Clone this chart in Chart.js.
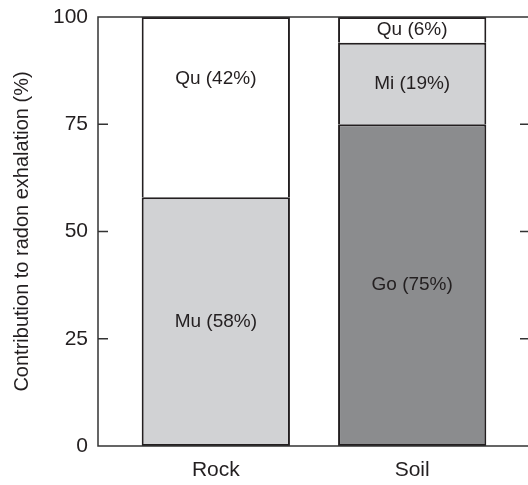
<!DOCTYPE html>
<html><head><meta charset="utf-8">
<script src="https://cdn.jsdelivr.net/npm/chart.js@4"></script>
<style>html,body{margin:0;padding:0;overflow:hidden;background:#fff}#wrap{width:532px;height:485px;position:relative}</style>
</head><body><div id="wrap"><canvas id="c"></canvas></div>
<script>
const categories = ['Rock', 'Soil'];
const muValues = [58, null];
const goValues = [null, 75];
const miValues = [null, 19];
const quValues = [42, 6];
const yTicks = [0, 25, 50, 75, 100];
const seriesNames = ['Mu', 'Go', 'Mi', 'Qu'];

const FONT = '"Liberation Sans", Arial, sans-serif';
const toPts = arr => arr.map((v, i) => ({x: i, y: v}));
const border = '#231f20';
const mk = (name, vals, color, skip) => ({label: name, data: toPts(vals), backgroundColor: color, borderColor: border, borderWidth: 2, borderSkipped: skip});

const labelPlugin = {
  id: 'labels',
  afterDatasetsDraw(chart) {
    const ctx = chart.ctx;
    ctx.save();
    ctx.font = '19px ' + FONT;
    ctx.fillStyle = '#231f20';
    ctx.textAlign = 'center';
    ctx.textBaseline = 'middle';
    chart.data.datasets.forEach((ds, di) => {
      const meta = chart.getDatasetMeta(di);
      meta.data.forEach((el, i) => {
        const v = ds.data[i].y;
        if (v == null) return;
        let y = (el.y + el.base) / 2;
        if (ds.label === 'Qu' && i === 0) y -= 28;
        ctx.fillText(ds.label + ' (' + v + '%)', el.x, y);
      });
    });
    ctx.restore();
  },
  afterDraw(chart) {
    const ctx = chart.ctx, a = chart.chartArea, ys = chart.scales.y;
    ctx.save();
    ctx.strokeStyle = '#333';
    ctx.lineWidth = 1.5;
    ctx.beginPath();
    ctx.moveTo(a.right, a.top); ctx.lineTo(a.left, a.top); ctx.lineTo(a.left, a.bottom); ctx.lineTo(a.right, a.bottom);
    yTicks.forEach(t => {
      const p = ys.getPixelForValue(t);
      ctx.moveTo(a.left, p); ctx.lineTo(a.left + 10, p);
      ctx.moveTo(a.right, p); ctx.lineTo(a.right - 10, p);
    });
    ctx.stroke();
    ctx.restore();
  }
};

new Chart(document.getElementById('c'), {
  type: 'bar',
  data: {
    datasets: [
      mk('Mu', muValues, '#d1d2d4', false),
      mk('Go', goValues, '#8b8c8e', false),
      mk('Mi', miValues, '#d1d2d4', 'bottom'),
      mk('Qu', quValues, '#ffffff', 'bottom')
    ]
  },
  options: {
    responsive: true, maintainAspectRatio: false, animation: false,
    layout: {padding: {top: 17, right: 2, left: 0, bottom: 0}},
    barPercentage: 0.755, categoryPercentage: 1,
    plugins: {legend: {display: false}, tooltip: {enabled: false}},
    scales: {
      x: {
        type: 'linear', stacked: true, min: -0.6, max: 1.6, offset: false,
        grid: {display: false, offset: false, drawTicks: false}, border: {display: false},
        afterBuildTicks: s => { s.ticks = categories.map((c, i) => ({value: i})); },
        afterFit: s => { s.height = 39; s.paddingLeft = 0; s.paddingRight = 0; },
        ticks: {padding: 12, color: '#231f20', font: {size: 21, family: FONT}, callback: v => categories[v], maxRotation: 0, autoSkip: false}
      },
      y: {
        stacked: true, min: 0, max: 100,
        grid: {display: false, drawTicks: false}, border: {display: false},
        afterBuildTicks: s => { s.ticks = yTicks.map(v => ({value: v})); },
        afterFit: s => { s.width = 98; s.paddingTop = 0; s.paddingBottom = 0; },
        ticks: {padding: 10, color: '#231f20', font: {size: 21, family: FONT}},
        title: {display: true, text: 'Contribution to radon exhalation (%)', color: '#231f20', padding: {top: 10, bottom: 0}, font: {size: 20, family: FONT}}
      }
    }
  },
  plugins: [labelPlugin]
});
</script></body></html>
